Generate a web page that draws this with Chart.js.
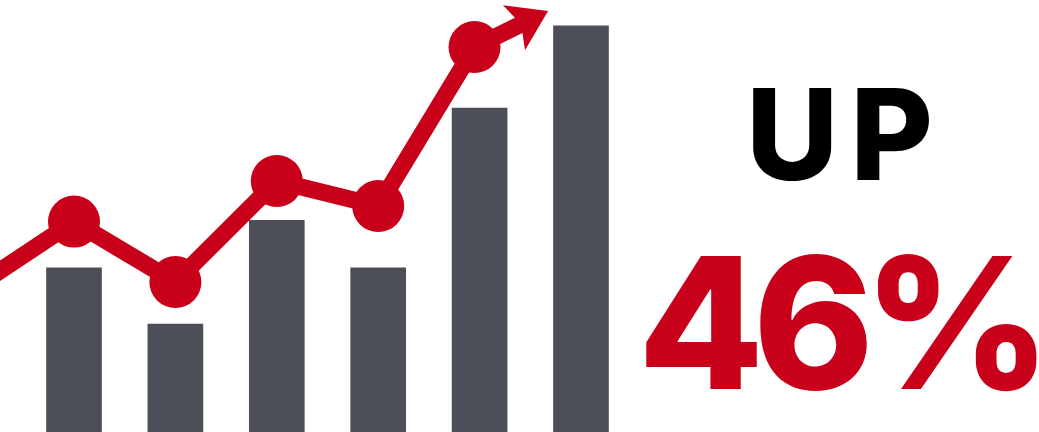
<!DOCTYPE html>
<html>
<head>
<meta charset="utf-8">
<script src="https://cdn.jsdelivr.net/npm/chart.js@4.4.0/dist/chart.umd.min.js"></script>
<style>
html, body { margin: 0; padding: 0; background: #fff; }
#wrap { position: relative; width: 1039px; height: 432px; overflow: hidden; }
#c { position: absolute; left: 0; top: 0; }
.label {
    position: absolute;
    font-family: Inter, "Noto Sans", sans-serif;
    font-weight: 800;
    line-height: 1;
    white-space: nowrap;
}
#up { left: 746px; top: 71px; font-size: 127px; color: #000; letter-spacing: 12px; }
#pct { left: 638px; top: 231px; font-size: 183px; color: #c8001a; letter-spacing: -11px; }
</style>
</head>
<body>
<div id="wrap">
    <canvas id="c" width="1039" height="432"></canvas>
    <div class="label" id="up">UP</div>
    <div class="label" id="pct">46%</div>
</div>
<script>
// bars
const barX = [0, 1, 2, 3, 4, 5];
const barValues = [38, 25, 49, 38, 75, 94];

// trend line (first point runs off the left edge, last one is where the arrow head starts)
const lineX = [-1, 0, 1, 2, 3, 3.95, 4.41];
const lineValues = [33.1, 48.7, 34.7, 58.1, 52.3, 89.1, 94.4];

const RED = "#c8001a";
const GREY = "#4c4f57";

const arrowHead = {
    id: "arrowHead",
    afterDatasetsDraw(chart) {
        const pts = chart.getDatasetMeta(1).data;
        if (pts.length < 2) return;
        const a = pts[pts.length - 2], b = pts[pts.length - 1];
        let dx = b.x - a.x, dy = b.y - a.y;
        const len = Math.hypot(dx, dy);
        dx /= len; dy /= len;
        const px = -dy, py = dx;
        const tipX = b.x + 30 * dx, tipY = b.y + 30 * dy;
        const baseX = tipX - 38 * dx, baseY = tipY - 38 * dy;
        const ctx = chart.ctx;
        ctx.save();
        ctx.fillStyle = RED;
        ctx.beginPath();
        ctx.moveTo(tipX, tipY);
        ctx.lineTo(baseX + 25 * px, baseY + 25 * py);
        ctx.lineTo(b.x, b.y);
        ctx.lineTo(baseX - 25 * px, baseY - 25 * py);
        ctx.closePath();
        ctx.fill();
        ctx.restore();
    }
};

const ctx = document.getElementById("c").getContext("2d");
new Chart(ctx, {
    type: "bar",
    data: {
        datasets: [{
            type: "bar",
            data: barX.map((x, i) => ({ x: x, y: barValues[i] })),
            backgroundColor: GREY,
            borderWidth: 0,
            barThickness: 55,
            order: 1
        }, {
            type: "line",
            data: lineX.map((x, i) => ({ x: x, y: lineValues[i] })),
            borderColor: RED,
            backgroundColor: RED,
            borderWidth: 17,
            borderJoinStyle: "round",
            borderCapStyle: "butt",
            tension: 0,
            clip: false,
            pointRadius: c => (c.dataIndex === 0 || c.dataIndex === lineValues.length - 1) ? 0 : 26,
            pointBorderWidth: 0,
            pointBackgroundColor: RED,
            order: 0
        }]
    },
    options: {
        responsive: false,
        animation: false,
        events: [],
        layout: { padding: 0, autoPadding: false },
        plugins: {
            legend: { display: false },
            tooltip: { enabled: false }
        },
        scales: {
            x: { type: "linear", display: false, offset: false, min: -0.7298, max: 9.517 },
            y: { display: false, min: 0, max: 100 }
        }
    },
    plugins: [arrowHead]
});
</script>
</body>
</html>
